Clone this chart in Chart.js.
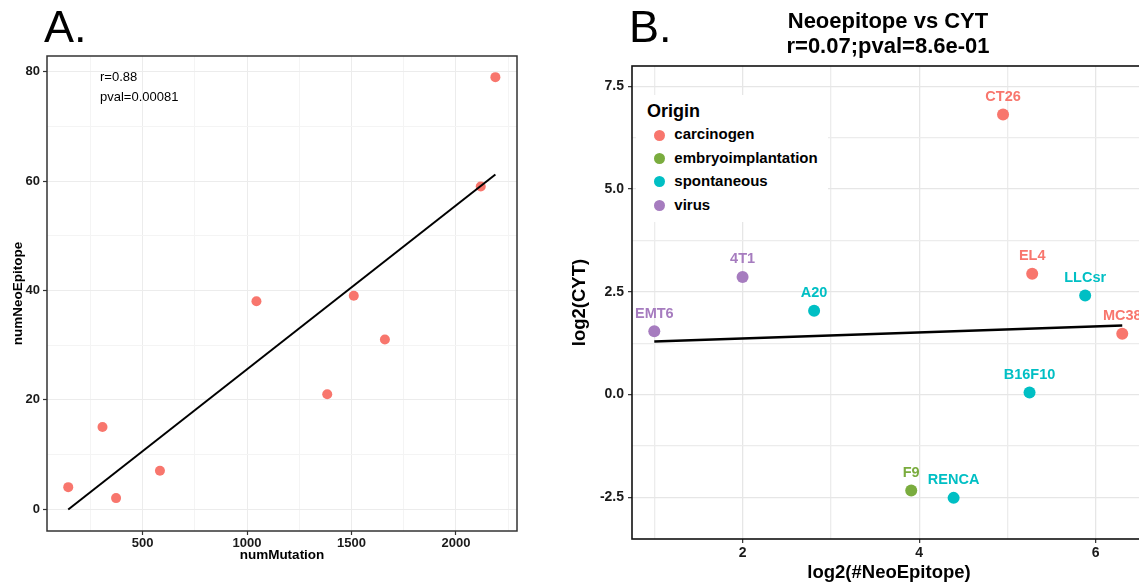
<!DOCTYPE html>
<html><head><meta charset="utf-8">
<script src="https://cdn.jsdelivr.net/npm/chart.js@4"></script>
<style>
html,body{margin:0;padding:0;width:1139px;height:587px;overflow:hidden;background:#fff;font-family:"Liberation Sans",Arial,sans-serif;color:#000;}
#cA{position:absolute;left:0;top:0;}
#cB{position:absolute;left:560px;top:0;}
.abs{position:absolute;white-space:nowrap;line-height:1;}
#legend{position:absolute;left:636px;top:95px;width:192px;height:127px;background:#fff;z-index:2;}
</style></head><body>
<canvas id="cA" width="560" height="587"></canvas>
<canvas id="cB" width="600" height="587"></canvas>
<div class="abs" style="left:44px;top:3.6px;font-size:45px;">A.</div>
<div class="abs" style="left:629px;top:3.6px;font-size:45px;">B.</div>
<div class="abs" style="left:100px;top:70.3px;font-size:13px;">r=0.88</div>
<div class="abs" style="left:100px;top:90.3px;font-size:13px;">pval=0.00081</div>
<div class="abs" style="left:688px;width:400px;top:7.8px;font-size:22px;font-weight:bold;line-height:25px;text-align:center;">Neoepitope vs CYT<br>r=0.07;pval=8.6e-01</div>
<div id="legend"></div>
<script>
// ---------- Panel A data ----------
const numMutation   = [144, 308, 373, 583, 1045, 1384, 1511, 1660, 2119, 2189];
const numNeoEpitope = [4, 15, 2, 7, 38, 21, 39, 31, 59, 79];
const fitA_x = [144, 2189];
const fitA_y = [-0.1, 61.2];
const aXMajor = [500, 1000, 1500, 2000];
const aXMinor = [250, 750, 1250, 1750, 2250];
const aYMajor = [0, 20, 40, 60, 80];
const aYMinor = [10, 30, 50, 70];

// ---------- Panel B data ----------
const cellLines = ['EMT6', '4T1', 'A20', 'F9', 'RENCA', 'CT26', 'EL4', 'B16F10', 'LLCsr', 'MC38'];
const cellOrigin = ['virus', 'virus', 'spontaneous', 'embryoimplantation', 'spontaneous', 'carcinogen', 'carcinogen', 'spontaneous', 'spontaneous', 'carcinogen'];
const log2NeoEpitope = [1.00, 2.00, 2.81, 3.91, 4.39, 4.95, 5.28, 5.25, 5.88, 6.30];
const log2CYT = [1.54, 2.86, 2.04, -2.33, -2.51, 6.81, 2.94, 0.05, 2.41, 1.48];
const fitB_x = [1.00, 6.30];
const fitB_y = [1.29, 1.68];
const origins = ['carcinogen', 'embryoimplantation', 'spontaneous', 'virus'];
const originColors = ['#F8766D', '#7AAC3E', '#00BFC4', '#A67CBF'];
const bXMajor = [2, 4, 6];
const bXMinor = [1, 3, 5];
const bYMajor = [-2.5, 0, 2.5, 5, 7.5];
const bYMajorLabels = ['-2.5', '0.0', '2.5', '5.0', '7.5'];
const bYMinor = [-1.25, 1.25, 3.75, 6.25];

const FONT = '"Liberation Sans", Arial, sans-serif';
Chart.defaults.font.family = FONT;
Chart.defaults.color = '#1a1a1a';

const framePlugin = {
  id: 'frame',
  afterDraw(chart, args, opts) {
    const {ctx, chartArea: a} = chart;
    ctx.save();
    ctx.strokeStyle = opts.color || '#000';
    ctx.lineWidth = opts.width || 1.5;
    ctx.strokeRect(a.left, a.top, a.right - a.left, a.bottom - a.top);
    ctx.restore();
  }
};
const labelPlugin = {
  id: 'ptlabels',
  afterDatasetsDraw(chart, args, opts) {
    const ctx = chart.ctx;
    chart.data.datasets.forEach((ds, di) => {
      if (!ds.pointLabels) return;
      const meta = chart.getDatasetMeta(di);
      ctx.save();
      ctx.font = 'bold ' + (opts.size || 14.5) + 'px ' + FONT;
      ctx.fillStyle = ds.backgroundColor;
      ctx.textAlign = 'center';
      ctx.textBaseline = 'middle';
      meta.data.forEach((pt, i) => {
        ctx.fillText(ds.pointLabels[i], pt.x, pt.y - (opts.dy || 17.5));
      });
      ctx.restore();
    });
  }
};

function makeScale(o) {
  const all = o.major.concat(o.minor).sort((a, b) => a - b);
  return {
    type: 'linear',
    min: o.min, max: o.max,
    afterBuildTicks: s => { s.ticks = all.map(v => ({value: v})); },
    afterFit: s => { if (o.horizontal) s.height = o.size; else s.width = o.size; },
    border: {display: false},
    grid: {
      color: c => (c.tick && o.major.includes(c.tick.value)) ? o.majorGrid : o.minorGrid,
      lineWidth: o.gridWidth,
      tickColor: c => (c.tick && o.major.includes(c.tick.value)) ? '#333' : 'rgba(0,0,0,0)',
      tickLength: 4,
      tickWidth: 1.2
    },
    ticks: {
      autoSkip: false, includeBounds: false, maxRotation: 0,
      padding: o.tickPad,
      color: '#1a1a1a',
      font: {size: o.tickSize, weight: 'bold'},
      callback: v => { const k = o.major.indexOf(v); return k < 0 ? '' : (o.labels ? o.labels[k] : String(v)); }
    },
    title: {
      display: true, text: o.title, color: '#000',
      font: {size: o.titleSize, weight: 'bold'},
      padding: o.titlePad
    }
  };
}

// ---------- Chart A ----------
new Chart(document.getElementById('cA'), {
  type: 'scatter',
  data: {
    datasets: [
      {type: 'line', data: fitA_x.map((x, i) => ({x, y: fitA_y[i]})), borderColor: '#000', borderWidth: 2, pointRadius: 0, showLine: true, fill: false, order: 0},
      {data: numMutation.map((x, i) => ({x, y: numNeoEpitope[i]})), backgroundColor: '#F8766D', borderWidth: 0, pointRadius: 5, order: 1}
    ]
  },
  options: {
    responsive: false, animation: false, events: [],
    layout: {padding: {left: 7, right: 43, top: 56, bottom: 16}},
    plugins: {legend: {display: false}, tooltip: {enabled: false}, frame: {color: '#333', width: 1.5}},
    scales: {
      x: makeScale({horizontal: true, size: 40, min: 42.3, max: 2292.5, major: aXMajor, minor: aXMinor,
        majorGrid: '#ececec', minorGrid: '#f4f4f4', gridWidth: 1, tickPad: 1, tickSize: 13,
        title: 'numMutation', titleSize: 13.5, titlePad: {top: 0, bottom: 8}}),
      y: makeScale({horizontal: false, size: 40, min: -4.02, max: 82.87, major: aYMajor, minor: aYMinor,
        majorGrid: '#ececec', minorGrid: '#f4f4f4', gridWidth: 1, tickPad: 3, tickSize: 13,
        title: 'numNeoEpitope', titleSize: 13.5, titlePad: {top: 3, bottom: 0}})
    }
  },
  plugins: [framePlugin]
});

// ---------- Chart B ----------
const dsB = origins.map((o, k) => {
  const idx = cellLines.map((_, i) => i).filter(i => cellOrigin[i] === o);
  return {
    label: o,
    data: idx.map(i => ({x: log2NeoEpitope[i], y: log2CYT[i]})),
    pointLabels: idx.map(i => cellLines[i]),
    backgroundColor: originColors[k], borderWidth: 0, pointRadius: 6, order: 1
  };
});
dsB.unshift({type: 'line', data: fitB_x.map((x, i) => ({x, y: fitB_y[i]})), borderColor: '#000', borderWidth: 2.5, pointRadius: 0, showLine: true, fill: false, order: 0});

new Chart(document.getElementById('cB'), {
  type: 'scatter',
  data: {datasets: dsB},
  options: {
    responsive: false, animation: false, events: [],
    layout: {padding: {left: 4, right: 14, top: 66, bottom: 2}},
    plugins: {legend: {display: false}, tooltip: {enabled: false}, frame: {color: '#111', width: 1.6}, ptlabels: {size: 14.5, dy: 17.5}},
    scales: {
      x: makeScale({horizontal: true, size: 46, min: 0.7475, max: 6.569, major: bXMajor, minor: bXMinor,
        majorGrid: '#e6e6e6', minorGrid: '#ececec', gridWidth: 1.3, tickPad: 2, tickSize: 14,
        title: 'log2(#NeoEpitope)', titleSize: 18.5, titlePad: {top: 0, bottom: 1}}),
      y: makeScale({horizontal: false, size: 68, min: -3.51, max: 7.99, major: bYMajor, labels: bYMajorLabels, minor: bYMinor,
        majorGrid: '#e6e6e6', minorGrid: '#ececec', gridWidth: 1.3, tickPad: 4, tickSize: 14,
        title: 'log2(CYT)', titleSize: 18.5, titlePad: {top: 5, bottom: 0}})
    }
  },
  plugins: [framePlugin, labelPlugin]
});

// ---------- Legend (HTML) ----------
const lg = document.getElementById('legend');
const t = document.createElement('div');
t.className = 'abs'; t.style.cssText = 'left:11px;top:6.9px;font-size:18px;font-weight:bold;';
t.textContent = 'Origin';
lg.appendChild(t);
const rowCenters = [40, 63.3, 86.7, 110.7];
origins.forEach((o, k) => {
  const c = document.createElement('div');
  c.style.cssText = 'position:absolute;width:11px;height:11px;border-radius:50%;left:' + (23 - 5.5) + 'px;top:' + (rowCenters[k] - 5.5) + 'px;background:' + originColors[k] + ';';
  lg.appendChild(c);
  const s = document.createElement('div');
  s.className = 'abs';
  s.style.cssText = 'left:38.3px;top:' + (rowCenters[k] + 3.9 - 12.7) + 'px;font-size:15px;font-weight:bold;';
  s.textContent = o;
  lg.appendChild(s);
});
</script>
</body></html>
